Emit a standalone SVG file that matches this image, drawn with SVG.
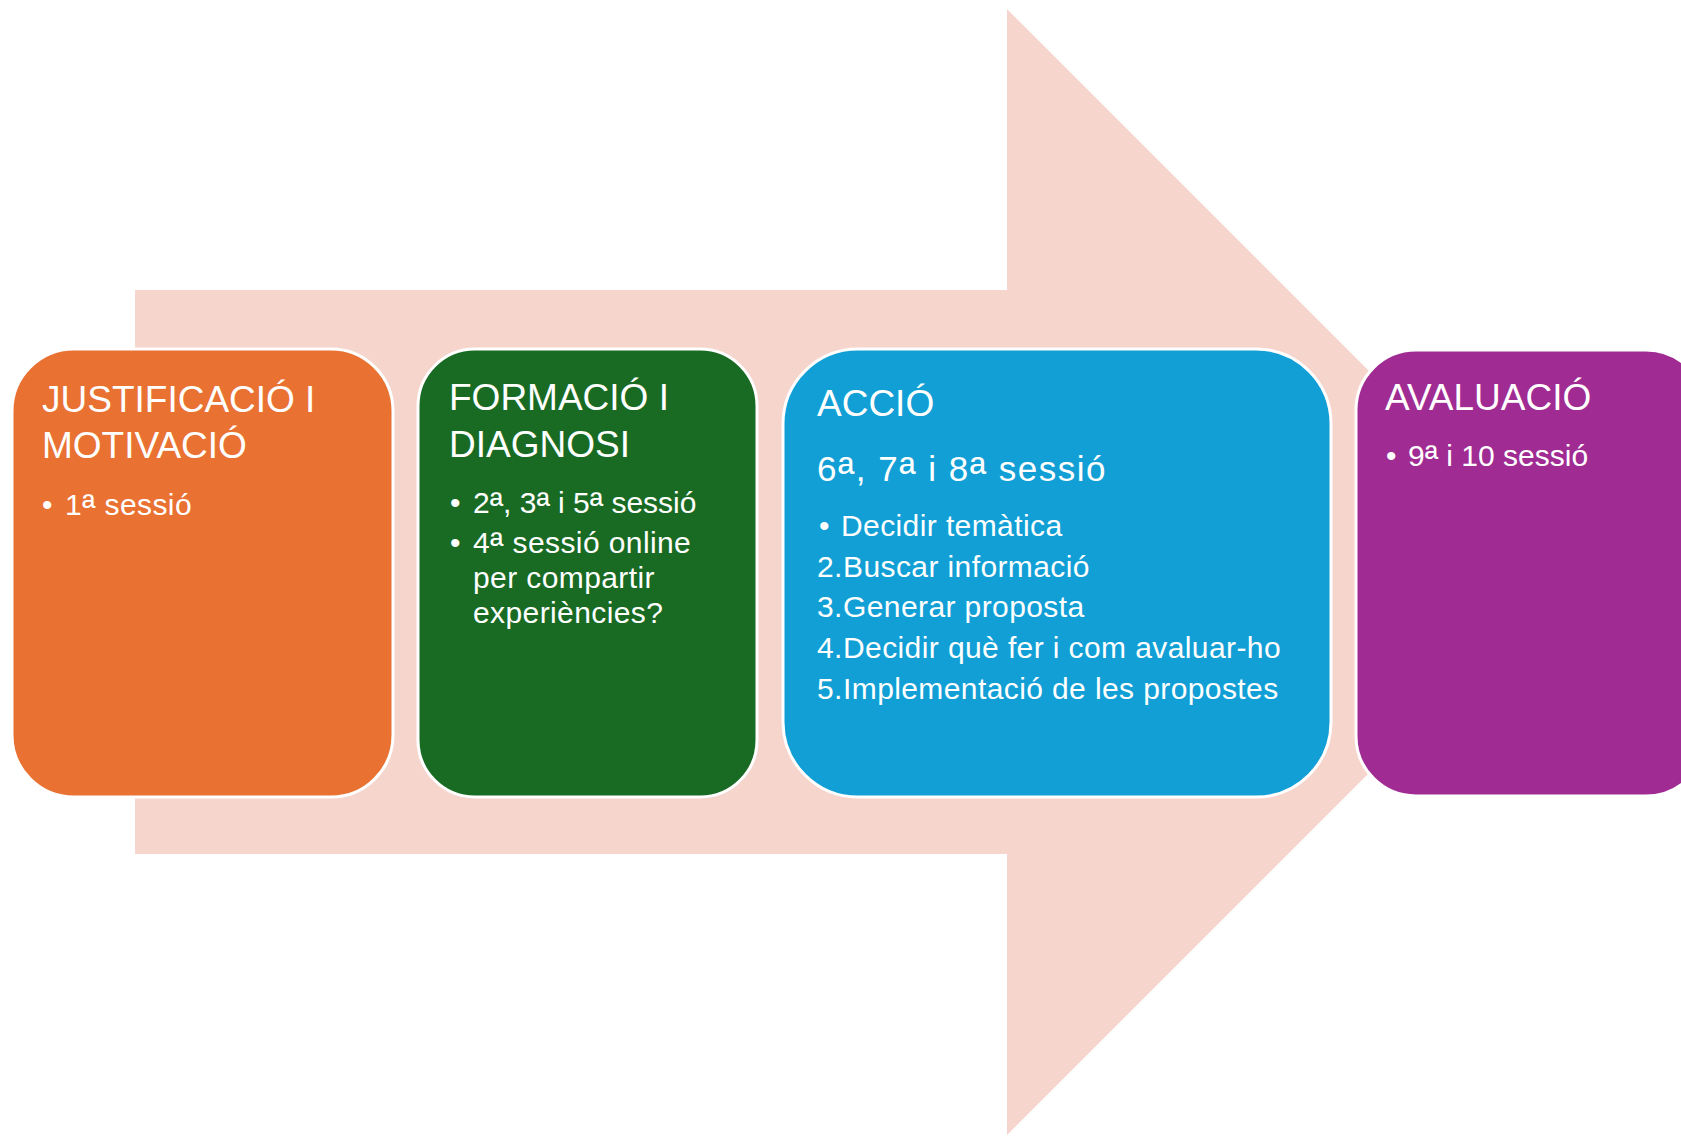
<svg xmlns="http://www.w3.org/2000/svg" width="1681" height="1136" viewBox="0 0 1681 1136">
<style>
.box{stroke:#ffffff;stroke-width:3}
text{font-family:"Liberation Sans",Arial,sans-serif;fill:#ffffff}
.t{font-size:37px}
.b{font-size:30px;letter-spacing:0.4px}
.s{font-size:35px;letter-spacing:1.5px}
.o{font-size:36px}
.oo{font-size:44px}
</style>
<rect width="1681" height="1136" fill="#ffffff"/>
<g id="connectors">
<polygon id="arrow" points="135,290 1007,290 1007,9 1570,572 1007,1135 1007,854 135,854" fill="#F6D5CD"/>
</g>
<g id="node1">
<rect class="box" x="12" y="349" width="381" height="448" rx="62" fill="#E97132"/>
<text class="t" x="42" y="412">JUSTIFICACIÓ I</text>
<text class="t" x="42" y="458">MOTIVACIÓ</text>
<text class="b" x="42" y="515">•</text>
<text class="b" x="65" y="515">1<tspan class="o" dy="4">ª</tspan><tspan dy="-4"> sessió</tspan></text>
</g>
<g id="node2">
<rect class="box" x="418" y="349" width="339" height="448" rx="57" fill="#196B24"/>
<text class="t" x="449" y="410">FORMACIÓ I</text>
<text class="t" x="449" y="457">DIAGNOSI</text>
<text class="b" x="450" y="513">•</text>
<text class="b" x="473" y="513" style="letter-spacing:0">2<tspan class="o" dy="4">ª</tspan><tspan dy="-4">, 3</tspan><tspan class="o" dy="4">ª</tspan><tspan dy="-4"> i 5</tspan><tspan class="o" dy="4">ª</tspan><tspan dy="-4"> sessió</tspan></text>
<text class="b" x="450" y="553">•</text>
<text class="b" x="473" y="553">4<tspan class="o" dy="4">ª</tspan><tspan dy="-4"> sessió online</tspan></text>
<text class="b" x="473" y="588">per compartir</text>
<text class="b" x="473" y="623">experiències?</text>
</g>
<g id="node3">
<rect class="box" x="783" y="349" width="548" height="448" rx="75" fill="#119FD6"/>
<text class="t" x="817" y="416">ACCIÓ</text>
<text class="s" x="817" y="481">6<tspan class="oo" dy="7">ª</tspan><tspan dy="-7">, 7</tspan><tspan class="oo" dy="7">ª</tspan><tspan dy="-7"> i 8</tspan><tspan class="oo" dy="7">ª</tspan><tspan dy="-7"> sessió</tspan></text>
<text class="b" x="819" y="536">•</text>
<text class="b" x="841" y="536">Decidir temàtica</text>
<text class="b" x="817" y="577">2.</text>
<text class="b" x="843" y="577">Buscar informació</text>
<text class="b" x="817" y="617">3.</text>
<text class="b" x="843" y="617">Generar proposta</text>
<text class="b" x="817" y="658">4.</text>
<text class="b" x="843" y="658">Decidir què fer i com avaluar-ho</text>
<text class="b" x="817" y="699">5.</text>
<text class="b" x="843" y="699">Implementació de les propostes</text>
</g>
<g id="node4">
<rect class="box" x="1356" y="350" width="350" height="446" rx="60" fill="#A02B93"/>
<text class="t" x="1385" y="410">AVALUACIÓ</text>
<text class="b" x="1386" y="466">•</text>
<text class="b" x="1408" y="466" style="letter-spacing:0">9<tspan class="o" dy="4">ª</tspan><tspan dy="-4"> i 10 sessió</tspan></text>
</g>
</svg>
